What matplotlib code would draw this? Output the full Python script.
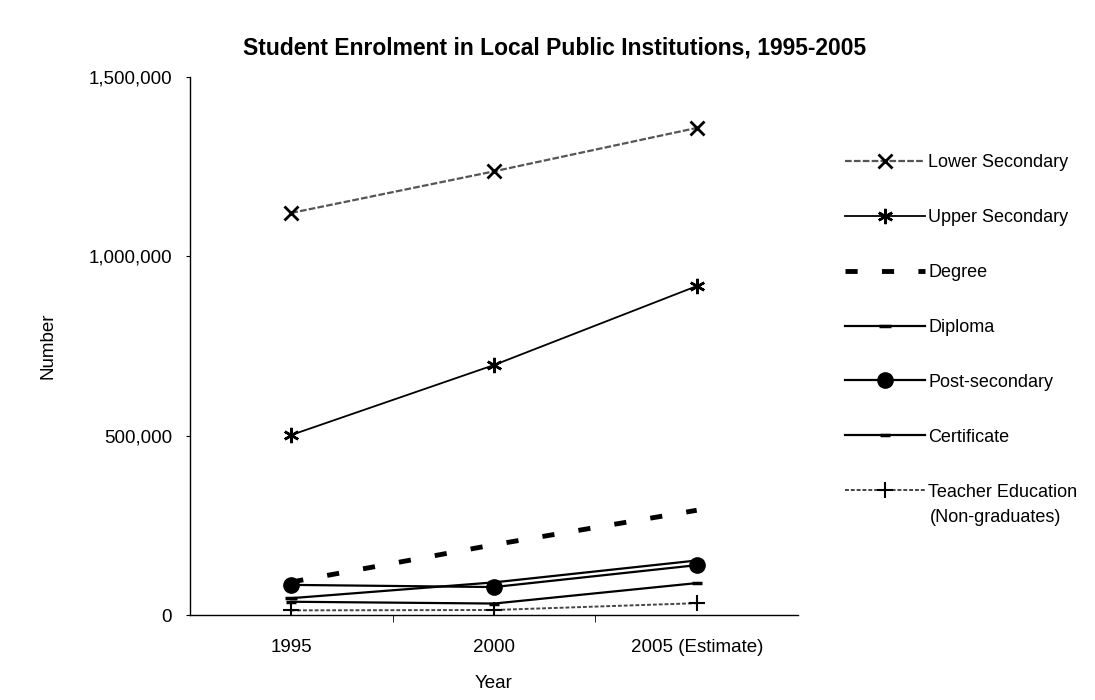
import matplotlib.pyplot as plt
from matplotlib.ticker import FuncFormatter

plt.rcParams['font.family'] = ['Liberation Sans', 'DejaVu Sans']

# Daten
years = ['1995', '2000', '2005 (Estimate)']
lower_secondary = [1121000, 1237000, 1358000]
upper_secondary = [502000, 697000, 917000]
degree = [92000, 196000, 292000]
diploma = [47000, 91000, 152000]
post_secondary = [84000, 78000, 139000]
certificate = [37000, 32000, 89000]
teacher_education = [13000, 14000, 33000]

x = range(len(years))

fig = plt.figure(figsize=(10.95, 7), dpi=100)
ax = fig.add_axes([0.1735, 0.1214, 0.5553, 0.7686])

ax.plot(x, lower_secondary, color='#555555', lw=1.6, ls=(0, (3, 1)),
        marker='x', ms=10, mew=2, mec='black', label='Lower Secondary')
ax.plot(x, upper_secondary, color='black', lw=1.3,
        marker=(6, 2, 0), ms=11, mew=1.8, label='Upper Secondary')
ax.plot(x, degree, color='black', lw=3.5, ls=(0, (2.5, 5)),
        label='Degree')
ax.plot(x, diploma, color='black', lw=1.6,
        marker='_', ms=8, mew=2.5, label='Diploma')
ax.plot(x, post_secondary, color='black', lw=1.6,
        marker='o', ms=11, label='Post-secondary')
ax.plot(x, certificate, color='black', lw=1.6,
        marker='_', ms=7, mew=2.5, label='Certificate')
ax.plot(x, teacher_education, color='#444444', lw=1.4, ls=(0, (2, 1)),
        marker='+', ms=12, mew=1.5, mec='black',
        label='Teacher Education')

ax.set_xlim(-0.5, 2.5)
ax.set_ylim(0, 1500000)
ax.set_yticks([0, 500000, 1000000, 1500000])
ax.yaxis.set_major_formatter(FuncFormatter(lambda v, p: f'{int(v):,}'))
ax.set_xticks(list(x))
ax.set_xticklabels(years)
ax.set_xticks([0.5, 1.5], minor=True)
ax.tick_params(axis='x', which='major', length=0, pad=17, labelsize=13.5)
ax.tick_params(axis='x', which='minor', length=5, direction='out')
ax.tick_params(axis='y', length=3, direction='out', pad=10, labelsize=13.5)

for s in ['top', 'right']:
    ax.spines[s].set_visible(False)
ax.spines['left'].set_linewidth(1.0)
ax.spines['bottom'].set_linewidth(1.0)

ax.set_xlabel('Year', fontsize=13.5, labelpad=14)
ax.set_ylabel('Number', fontsize=13.5, labelpad=23)
ax.set_title('Student Enrolment in Local Public Institutions, 1995-2005',
             fontsize=16.5, fontweight='bold', pad=16, x=0.6)

leg = fig.legend(loc='upper left', bbox_to_anchor=(0.757, 0.803),
                 frameon=False, fontsize=13, labelspacing=2.1,
                 handlelength=4.4, handletextpad=0.2)
fig.text(0.849, 0.26, '(Non-graduates)', fontsize=13, va='center')

plt.savefig('out.png', dpi=100)
